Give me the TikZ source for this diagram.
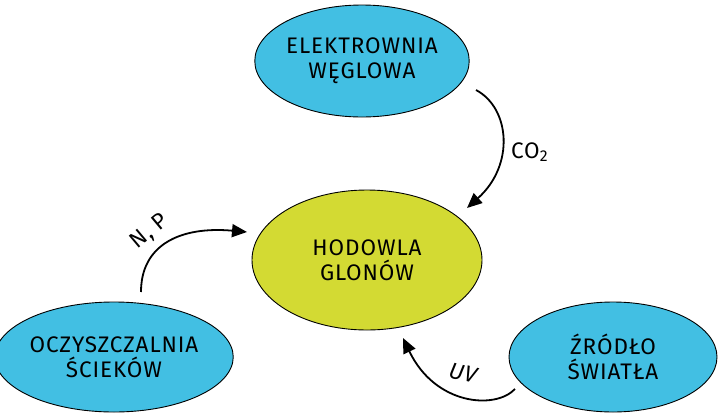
\documentclass[tikz,border=0pt]{standalone}
\usepackage{fontspec}
\setmainfont{Fira Sans}[LetterSpace=4]
\usetikzlibrary{arrows.meta,shapes.geometric}
\definecolor{skyfill}{HTML}{42BFE3}
\definecolor{algaefill}{HTML}{D3DA33}
\begin{document}
\begin{tikzpicture}[x=1pt,y=-1pt,
  every node/.style={font=\fontsize{22.5}{25}\selectfont, align=center, text=black},
  blob/.style={ellipse, draw=black, line width=0.9pt, inner sep=0pt},
  source/.style={blob, fill=skyfill},
  hub/.style={blob, fill=algaefill},
  flow/.style={line width=1.8pt, -{Triangle[length=15pt,width=13pt]}},
  lbl/.style={inner sep=0pt}]
\useasboundingbox (0,0) rectangle (718,413);
% the four stations
\node[source, minimum width=212pt, minimum height=112pt] (plant) at (362,61) {ELEKTROWNIA\\WĘGLOWA};
\node[hub, minimum width=230pt, minimum height=140pt] (algae) at (367,260) {HODOWLA\\GLONÓW};
\node[source, minimum width=216pt, minimum height=110pt] (sewage) at (114,357) {OCZYSZCZALNIA\\ŚCIEKÓW};
\node[source, minimum width=208pt, minimum height=110pt] (light) at (613,357) {ŹRÓDŁO\\ŚWIATŁA};
% free ends of the connectors
\coordinate (co2a) at ([shift={(114,29)}]plant.center);
\coordinate (co2b) at ([shift={(100,-52)}]algae.center);
\coordinate (npa) at ([shift={(27,-65)}]sewage.center);
\coordinate (npb) at ([shift={(-120,-28)}]algae.center);
\coordinate (uva) at ([shift={(-98,32)}]light.center);
\coordinate (uvb) at ([shift={(36,78)}]algae.center);
% connectors
\draw[flow] (co2a) .. controls ++(34,18) and ++(48,-43) .. (co2b);
\draw[flow] (npa) .. controls ++(0,-47) and ++(-67,-6) .. (npb);
\draw[flow] (uva) .. controls ++(-20,21) and ++(32,67) .. (uvb);
% connector labels
\node[lbl, anchor=base west] (co2) at (511,158) {CO\textsubscript{2}};
\node[lbl, rotate=40] (np) at (150,232) {N, P};
\node[lbl, rotate=-14, font=\fontsize{22.5}{25}\selectfont\itshape] (uv) at (463,373) {UV};
\end{tikzpicture}
\end{document}
